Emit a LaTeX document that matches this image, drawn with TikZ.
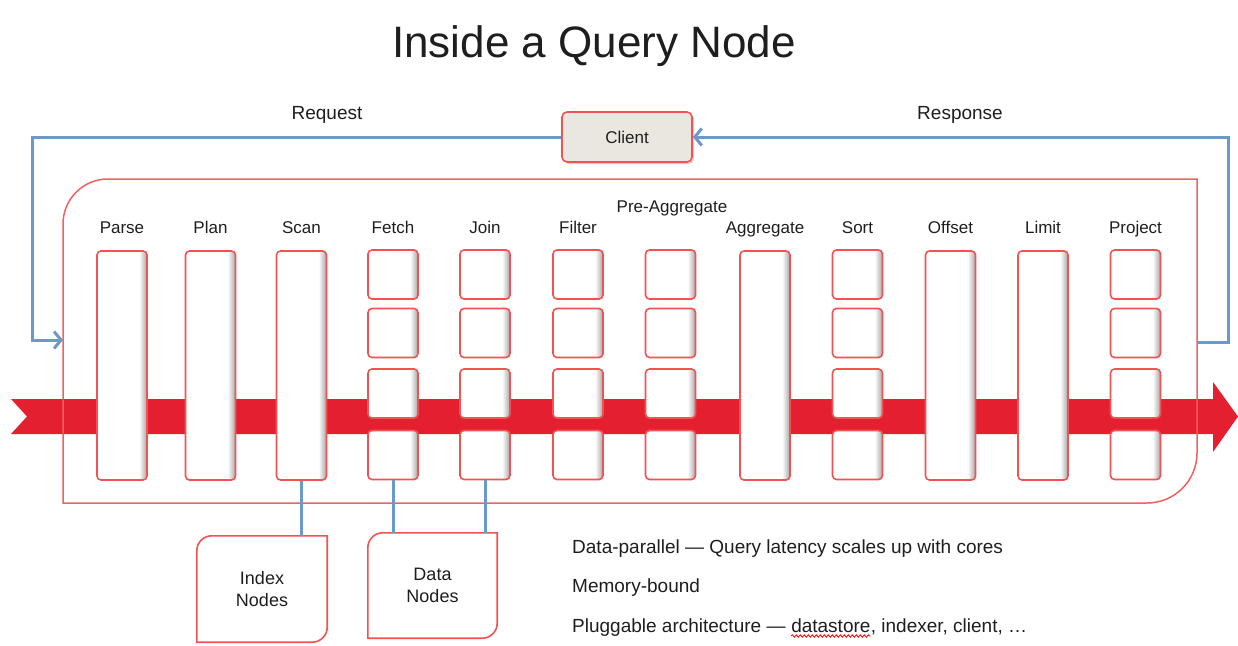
\documentclass[tikz,border=0pt]{standalone}
\usepackage{fontspec}
\setmainfont{Liberation Sans}
\usetikzlibrary{arrows.meta,calc,shadows,decorations.pathmorphing}
\definecolor{boxred}{RGB}{242,82,82}
\definecolor{outerred}{RGB}{245,95,95}
\definecolor{bandred}{RGB}{228,32,48}
\definecolor{lineblue}{RGB}{106,153,204}
\definecolor{clientfill}{RGB}{234,231,225}
\definecolor{textgray}{RGB}{30,30,30}
\pgfdeclarehorizontalshading{boxshade}{100bp}{color(0bp)=(white); color(25bp)=(white); color(67bp)=(white); color(75bp)=(black!35); color(100bp)=(black!35)}
\newcommand\tlbrshape[1]{%
  \draw[draw=boxred, line width=1.6pt]
    (#1.south west) -- ($(#1.north west)+(0,15)$)
    .. controls ($(#1.north west)+(0,6.7)$) and ($(#1.north west)+(6.7,0)$) .. ($(#1.north west)+(15,0)$)
    -- (#1.north east) -- ($(#1.south east)+(0,-15)$)
    .. controls ($(#1.south east)+(0,-6.7)$) and ($(#1.south east)+(-6.7,0)$) .. ($(#1.south east)+(-15,0)$)
    -- cycle;}
\begin{document}
\begin{tikzpicture}[x=1pt,y=-1pt,
  colbox/.style={draw=boxred, line width=1.6pt, rounded corners=4pt, shading=boxshade, inner sep=0pt, minimum width=50pt},
  tallbox/.style={colbox, minimum height=229pt},
  smallbox/.style={colbox, minimum height=49pt},
  lbl/.style={font=\fontsize{17}{20}\selectfont, anchor=base, inner sep=0pt, text=textgray},
  toplbl/.style={font=\fontsize{19}{22}\selectfont, anchor=base, inner sep=0pt, text=textgray},
  bullet/.style={font=\fontsize{19}{22}\selectfont, anchor=base west, inner sep=0pt, text=textgray},
  blueline/.style={draw=lineblue, line width=3pt},
  bluearrow/.style={blueline, -{Straight Barb[length=7pt,width=17pt]}},
  nodetext/.style={font=\fontsize{18}{22}\selectfont, align=center, text=textgray, inner sep=0pt}
]
\useasboundingbox (0,0) rectangle (1238,645);

% title
\node[font=\fontsize{44}{50}\selectfont, anchor=base, inner sep=0pt, text=textgray] (title) at (594,57) {Inside a Query Node};

% red flow band
\fill[bandred] (11,399) -- (1213,399) -- (1213,382) -- (1238,416.5) -- (1213,452) -- (1213,434) -- (11,434) -- (27,416.5) -- cycle;

% outer query node box
\draw[draw=outerred, line width=1.5pt]
  (63,503) -- (63,224) .. controls (63,199.1) and (83.1,179) .. (108,179)
  -- (1197,179) -- (1197,453) .. controls (1197,480.6) and (1174.6,503) .. (1147,503) -- cycle;

% client
\node[draw=boxred, line width=1.6pt, fill=clientfill, rounded corners=5pt, minimum width=130pt, minimum height=50pt,
  drop shadow={opacity=0.35, shadow xshift=2pt, shadow yshift=-2pt},
  font=\fontsize{17}{20}\selectfont, text=textgray] (client) at (627,137) {Client};

\node[toplbl] (request) at (327,119) {Request};
\node[toplbl] (response) at (960,119) {Response};

\coordinate (reqc) at (32,340);
\coordinate (reqin) at (63,340);
\draw[bluearrow] (client.west) -| (reqc) -- (reqin);
\coordinate (respout) at (1197,342);
\coordinate (respc) at (1228,342);
\draw[bluearrow] (respout) -- (respc) |- (client.east);

% tall columns
\node[tallbox] (parse) at (122,365.5) {};
\node[tallbox] (plan) at (210.5,365.5) {};
\node[tallbox] (scan) at (301.5,365.5) {};
\node[tallbox] (aggregate) at (765,365.5) {};
\node[tallbox] (offset) at (950.5,365.5) {};
\node[tallbox] (limit) at (1043,365.5) {};

% split columns
\foreach \n/\x in {fetch/393, join/485, filter/578, preagg/670.5, sort/857.5, project/1135.5}{
  \foreach \r/\y in {a/274.5, b/333, c/393.5, d/455}{
    \node[smallbox] (\n\r) at (\x,\y) {};
  }
}

% column labels
\node[lbl] (lparse) at (122,233) {Parse};
\node[lbl] (lplan) at (210.5,233) {Plan};
\node[lbl] (lscan) at (301.5,233) {Scan};
\node[lbl] (lfetch) at (393,233) {Fetch};
\node[lbl] (ljoin) at (485,233) {Join};
\node[lbl] (lfilter) at (578,233) {Filter};
\node[lbl] (lpreagg) at (672,212) {Pre-Aggregate};
\node[lbl] (laggregate) at (765,233) {Aggregate};
\node[lbl] (lsort) at (857.5,233) {Sort};
\node[lbl] (loffset) at (950.5,233) {Offset};
\node[lbl] (llimit) at (1043,233) {Limit};
\node[lbl] (lproject) at (1135.5,233) {Project};

% storage nodes
\node[nodetext, minimum width=130pt, minimum height=106pt] (index) at (262,589) {Index\\Nodes};
\tlbrshape{index}
\node[nodetext, minimum width=129pt, minimum height=105pt] (data) at (432.5,585.5) {Data\\Nodes};
\tlbrshape{data}

\draw[blueline] (scan.south) -- (scan.south |- index.north);
\draw[blueline] (fetchd.south) -- (fetchd.south |- data.north);
\draw[blueline] (joind.south) -- (joind.south |- data.north);

% notes
\node[bullet] (note1) at (572,553) {Data-parallel — Query latency scales up with cores};
\node[bullet] (note2) at (572,592) {Memory-bound};
\node[bullet] (note3a) at (572,632) {Pluggable architecture —};
\node[bullet] (note3b) at ([xshift=5.3pt]note3a.base east) {datastore};
\node[bullet] (note3c) at (note3b.base east) {, indexer, client, …};
\draw[red, line width=0.8pt, decorate, decoration={snake, amplitude=1.2pt, segment length=4pt}]
  ([yshift=-4pt]note3b.base west) -- ([yshift=-4pt]note3b.base east);
\end{tikzpicture}
\end{document}
